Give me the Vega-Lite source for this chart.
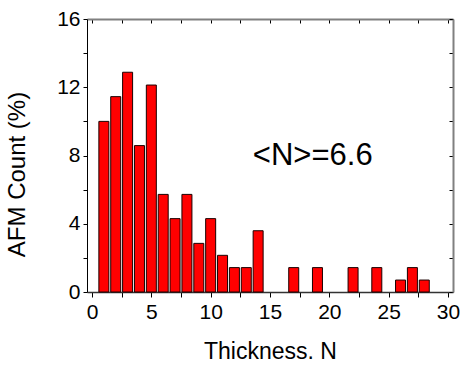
{
  "$schema": "https://vega.github.io/schema/vega-lite/v6.json",
  "width": 366,
  "height": 273,
  "autosize": {"type": "none"},
  "padding": {"left": 87, "top": 19, "right": 20, "bottom": 73},
  "background": "white",
  "config": {
    "view": {"stroke": null},
    "font": "Liberation Sans",
    "axis": {"grid": false, "labelFont": "Liberation Sans", "titleFont": "Liberation Sans", "titleFontWeight": "normal", "labelColor": "black", "titleColor": "black", "tickColor": "black"}
  },
  "datasets": {
    "bars": [
      {"N": 1, "pct": 10.0},
      {"N": 2, "pct": 11.45},
      {"N": 3, "pct": 12.88},
      {"N": 4, "pct": 8.58},
      {"N": 5, "pct": 12.13},
      {"N": 6, "pct": 5.72},
      {"N": 7, "pct": 4.3},
      {"N": 8, "pct": 5.72},
      {"N": 9, "pct": 2.85},
      {"N": 10, "pct": 4.3},
      {"N": 11, "pct": 2.15},
      {"N": 12, "pct": 1.43},
      {"N": 13, "pct": 1.43},
      {"N": 14, "pct": 3.59},
      {"N": 17, "pct": 1.43},
      {"N": 19, "pct": 1.43},
      {"N": 22, "pct": 1.43},
      {"N": 24, "pct": 1.43},
      {"N": 26, "pct": 0.7},
      {"N": 27, "pct": 1.43},
      {"N": 28, "pct": 0.7}
    ],
    "note": [{"N": 18.6, "pct": 8.0, "label": "<N>=6.6"}]
  },
  "layer": [
    {
      "data": {"name": "bars"},
      "mark": {"type": "bar", "size": 10, "fill": "#ff0000", "stroke": "#1a0000", "strokeWidth": 1},
      "encoding": {
        "x": {
          "field": "N", "type": "quantitative",
          "scale": {"domain": [0, 30], "nice": false, "zero": false},
          "axis": {
            "orient": "bottom",
            "values": [0, 2.5, 5, 7.5, 10, 12.5, 15, 17.5, 20, 22.5, 25, 27.5, 30],
            "labelExpr": "datum.value % 5 === 0 ? datum.label : ''",
            "labelFontSize": 21, "labelPadding": 4, "tickSize": 5,
            "domainColor": "#333333", "domainWidth": 1.5,
            "title": "Thickness. N", "titleFontSize": 23,
            "titleY": 66, "titleBaseline": "alphabetic"
          }
        },
        "y": {
          "field": "pct", "type": "quantitative",
          "scale": {"domain": [0, 16], "nice": false},
          "axis": {
            "orient": "left",
            "values": [0, 2, 4, 6, 8, 10, 12, 14, 16],
            "labelExpr": "datum.value % 4 === 0 ? datum.label : ''",
            "labelFontSize": 21, "labelPadding": 3, "tickSize": 4,
            "domainColor": "black", "domainWidth": 1,
            "title": "AFM Count (%)", "titleFontSize": 24,
            "titleX": -70, "titleY": 155, "titleBaseline": "middle", "titleAngle": -90
          }
        }
      }
    },
    {
      "data": {"name": "note"},
      "mark": {"type": "text", "fontSize": 31, "font": "Liberation Sans", "color": "black", "align": "center", "baseline": "middle"},
      "encoding": {
        "x": {
          "field": "N", "type": "quantitative",
          "scale": {"domain": [0, 30], "nice": false, "zero": false},
          "axis": {
            "orient": "top",
            "values": [0, 2.5, 5, 7.5, 10, 12.5, 15, 17.5, 20, 22.5, 25, 27.5, 30],
            "labels": false, "title": null, "tickSize": -4,
            "domainColor": "#808080", "domainWidth": 2
          }
        },
        "y": {
          "field": "pct", "type": "quantitative",
          "scale": {"domain": [0, 16], "nice": false},
          "axis": {
            "orient": "right",
            "values": [0, 2, 4, 6, 8, 10, 12, 14, 16],
            "labels": false, "title": null, "tickSize": -4,
            "domainColor": "#808080", "domainWidth": 2
          }
        },
        "text": {"field": "label"}
      }
    }
  ],
  "resolve": {"axis": {"x": "independent", "y": "independent"}}
}
